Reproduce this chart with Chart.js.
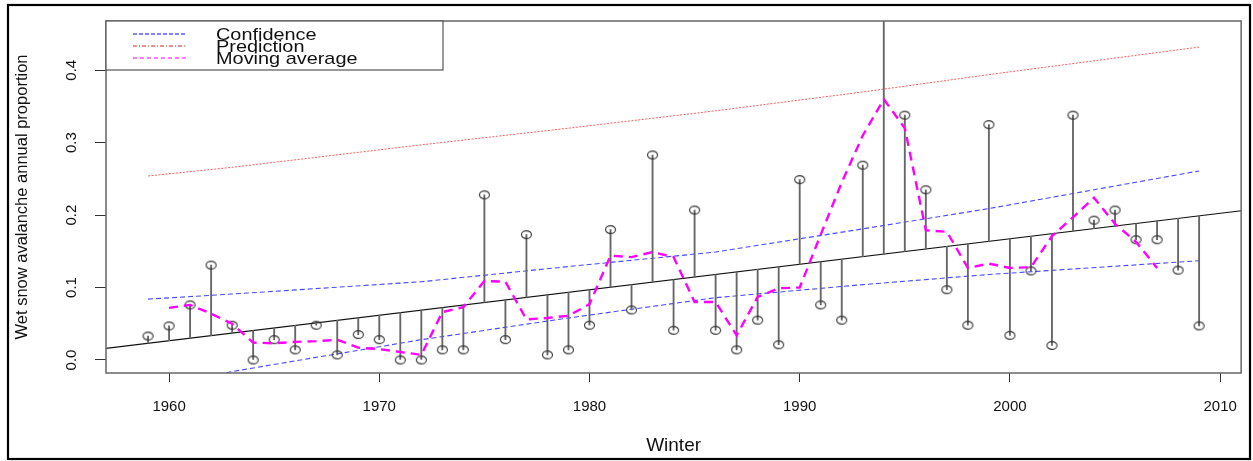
<!DOCTYPE html>
<html>
<head>
<meta charset="utf-8">
<script src="https://cdn.jsdelivr.net/npm/chart.js@4.4.1/dist/chart.umd.min.js"></script>
<style>
  html, body { margin: 0; background: #fff; }
  canvas { display: block; }
</style>
</head>
<body>
<canvas id="chart" width="1253" height="461"></canvas>
<script>
// observed winters and wet snow proportion (1994 is above the plot top)
const years = [1959, 1960, 1961, 1962, 1963, 1964, 1965, 1966, 1967, 1968,
  1969, 1970, 1971, 1972, 1973, 1974, 1975, 1976, 1977, 1978,
  1979, 1980, 1981, 1982, 1983, 1984, 1985, 1986, 1987, 1988,
  1989, 1990, 1991, 1992, 1993, 1994, 1995, 1996, 1997, 1998,
  1999, 2000, 2001, 2002, 2003, 2004, 2005, 2006, 2007, 2008, 2009];
const proportion = [0.033, 0.047, 0.076, 0.131, 0.048, 0.0, 0.028, 0.014, 0.048, 0.007,
  0.035, 0.028, 0.0, 0.0, 0.014, 0.014, 0.228, 0.028, 0.173, 0.007,
  0.014, 0.048, 0.18, 0.069, 0.283, 0.041, 0.207, 0.041, 0.014, 0.055,
  0.021, 0.249, 0.076, 0.055, 0.269, 0.52, 0.338, 0.235, 0.097, 0.048,
  0.325, 0.034, 0.123, 0.02, 0.338, 0.193, 0.207, 0.166, 0.166, 0.124, 0.047];

// moving average
const maYears = [1960, 1961, 1962, 1963, 1964, 1965, 1966, 1967, 1968, 1969,
  1970, 1971, 1972, 1973, 1974, 1975, 1976, 1977, 1978, 1979,
  1980, 1981, 1982, 1983, 1984, 1985, 1986, 1987, 1988, 1989,
  1990, 1991, 1992, 1993, 1994, 1995, 1996, 1997, 1998, 1999,
  2000, 2001, 2002, 2003, 2004, 2005, 2006, 2007];
const movingAvg = [0.072, 0.076, 0.064, 0.05, 0.024, 0.023, 0.025, 0.026, 0.028, 0.017,
  0.015, 0.011, 0.007, 0.066, 0.073, 0.109, 0.108, 0.056, 0.058, 0.061,
  0.077, 0.144, 0.142, 0.149, 0.142, 0.08, 0.08, 0.034, 0.087, 0.099,
  0.1, 0.173, 0.245, 0.31, 0.36, 0.32, 0.179, 0.177, 0.127, 0.133,
  0.127, 0.128, 0.171, 0.197, 0.224, 0.188, 0.163, 0.127];

// confidence / prediction bands
const bandYears = [1959, 1963, 1972, 1979, 1986, 1993, 1999, 2009];
const confUpper = [0.084, 0.091, 0.108, 0.129, 0.149, 0.181, 0.209, 0.261];
const confLower = [-0.04, -0.016, 0.028, 0.058, 0.086, 0.104, 0.118, 0.137];
const predUpper = [0.254, 0.266, 0.297, 0.32, 0.344, 0.37, 0.394, 0.432];

// fitted trend (drawn across the whole plot)
const trendYears = [1957, 2011];
const trendValues = [0.016, 0.206];

const xTicks = [1960, 1970, 1980, 1990, 2000, 2010];
const yTicks = [0, 0.1, 0.2, 0.3, 0.4];
const yTickLabels = ['0.0', '0.1', '0.2', '0.3', '0.4'];

const FONT = '"Liberation Sans", Arial, sans-serif';
Chart.defaults.font.family = FONT;
Chart.defaults.color = '#111';

function trendAt(yr) {
    const t = (yr - trendYears[0]) / (trendYears[1] - trendYears[0]);
    return trendValues[0] + t * (trendValues[1] - trendValues[0]);
}
const pts = (xs, ys) => xs.map((x, i) => ({ x: x, y: ys[i] }));

// open ellipse marker like R pch=1 on a stretched device
const ring = document.createElement('canvas');
ring.width = 13; ring.height = 11;
const rc = ring.getContext('2d');
rc.strokeStyle = '#333';
rc.lineWidth = 1.1;
rc.beginPath();
rc.ellipse(6.5, 5.5, 5, 3.9, 0, 0, Math.PI * 2);
rc.stroke();

const blue = 'rgba(40,40,255,0.85)';
const lineBase = { type: 'line', pointRadius: 0, fill: false, tension: 0 };

const rDecor = {
    id: 'rDecor',
    beforeDraw(chart) {
        const ctx = chart.ctx;
        ctx.save();
        ctx.fillStyle = '#fff';
        ctx.fillRect(0, 0, chart.width, chart.height);
        ctx.restore();
    },
    afterDraw(chart) {
        const { ctx, chartArea: a, scales: { y } } = chart;
        ctx.save();
        // plot box
        ctx.strokeStyle = '#666';
        ctx.lineWidth = 1.5;
        ctx.strokeRect(a.left, a.top, a.right - a.left, a.bottom - a.top);

        // rotated y tick labels (R las=0)
        ctx.fillStyle = '#111';
        ctx.font = '15px ' + FONT;
        ctx.textAlign = 'center';
        ctx.textBaseline = 'middle';
        yTicks.forEach((v, i) => {
            ctx.save();
            ctx.translate(72, y.getPixelForValue(v));
            ctx.rotate(-Math.PI / 2);
            ctx.fillText(yTickLabels[i], 0, 0);
            ctx.restore();
        });

        // legend box
        const lx = a.left, ly = a.top, lw = 337, lh = 49;
        ctx.fillStyle = '#fff';
        ctx.fillRect(lx, ly, lw, lh);
        ctx.strokeStyle = '#555';
        ctx.lineWidth = 1.2;
        ctx.strokeRect(lx, ly, lw, lh);
        const items = chart.data.datasets.filter(d => d.legendStyle)
            .sort((p, q) => p.legendStyle.rank - q.legendStyle.rank);
        items.forEach((d, i) => {
            const yy = Math.round(ly + 12.5 + i * 12.2);
            ctx.save();
            ctx.strokeStyle = d.legendStyle.color;
            ctx.lineWidth = d.legendStyle.width;
            ctx.setLineDash(d.legendStyle.dash);
            ctx.beginPath();
            ctx.moveTo(lx + 27, yy);
            ctx.lineTo(lx + 81, yy);
            ctx.stroke();
            ctx.restore();
            ctx.save();
            ctx.fillStyle = '#111';
            ctx.font = '17px ' + FONT;
            ctx.textAlign = 'left';
            ctx.textBaseline = 'middle';
            ctx.translate(lx + 110, yy + 1);
            ctx.scale(1.17, 1);
            ctx.fillText(d.label, 0, 0);
            ctx.restore();
        });

        // outer figure frame
        ctx.strokeStyle = '#000';
        ctx.lineWidth = 2.2;
        ctx.strokeRect(8, 5, 1242, 454);
        ctx.restore();
    }
};

new Chart(document.getElementById('chart'), {
    data: {
        datasets: [
            {
                ...lineBase, label: 'Moving average', order: 0,
                data: pts(maYears, movingAvg),
                borderColor: '#ff00ff', borderWidth: 2.4, borderDash: [9, 6],
                legendStyle: { rank: 3, color: 'rgba(255,0,255,0.7)', width: 1.5, dash: [4, 3] }
            },
            {
                type: 'line', label: 'Observed', order: 1, showLine: false,
                data: pts(years, proportion),
                pointStyle: ring, pointRadius: 5, pointHoverRadius: 5
            },
            {
                type: 'bar', label: 'Residual', order: 2,
                data: years.map((yr, i) => ({ x: yr, y: [trendAt(yr), proportion[i]] })),
                backgroundColor: '#666', barThickness: 1.2, borderWidth: 0
            },
            {
                ...lineBase, label: 'Trend', order: 3,
                data: pts(trendYears, trendValues),
                borderColor: '#111', borderWidth: 1.1
            },
            {
                ...lineBase, label: 'Confidence', order: 4,
                data: pts(bandYears, confUpper),
                borderColor: blue, borderWidth: 1.1, borderDash: [5, 3],
                legendStyle: { rank: 1, color: 'rgb(90,90,255)', width: 1.5, dash: [4, 2] }
            },
            {
                ...lineBase, label: 'Confidence lower', order: 4,
                data: pts(bandYears, confLower),
                borderColor: blue, borderWidth: 1.1, borderDash: [5, 3]
            },
            {
                ...lineBase, label: 'Prediction', order: 5,
                data: pts(bandYears, predUpper),
                borderColor: 'rgba(255,40,40,0.75)', borderWidth: 1, borderDash: [2, 1.5],
                legendStyle: { rank: 2, color: 'rgb(210,40,30)', width: 1.2, dash: [4, 2, 1, 2] }
            }
        ]
    },
    options: {
        responsive: false,
        animation: false,
        devicePixelRatio: 1,
        layout: { padding: { left: 0, top: 21, right: 10, bottom: 0 } },
        plugins: { legend: { display: false }, tooltip: { enabled: false } },
        scales: {
            x: {
                type: 'linear', min: 1957, max: 2011, offset: false,
                afterBuildTicks: s => { s.ticks = xTicks.map(v => ({ value: v })); },
                afterFit: s => { s.height = 88; },
                grid: { offset: false, drawOnChartArea: false, drawTicks: true, tickLength: 9, color: '#333', lineWidth: 1 },
                border: { display: false },
                ticks: { font: { size: 15 }, color: '#111', padding: 16, maxRotation: 0, callback: v => String(v) },
                title: { display: true, text: 'Winter', font: { size: 19 }, color: '#111', padding: { top: 0, bottom: 4 } }
            },
            y: {
                type: 'linear', min: -0.018, max: 0.468,
                afterBuildTicks: s => { s.ticks = yTicks.map(v => ({ value: v })); },
                afterFit: s => { s.width = 106; },
                grid: { drawOnChartArea: false, drawTicks: true, tickLength: 11, color: '#333', lineWidth: 1 },
                border: { display: false },
                ticks: { display: false },
                title: { display: true, text: 'Wet snow avalanche annual proportion', font: { size: 16.5 }, color: '#111', padding: { top: 13, bottom: 0 } }
            }
        }
    },
    plugins: [rDecor]
});
</script>
</body>
</html>
